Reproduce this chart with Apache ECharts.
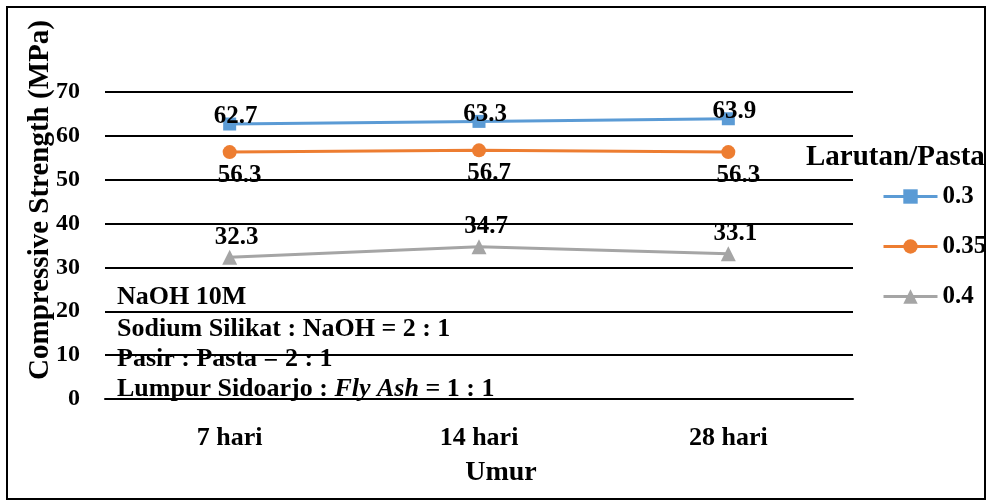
<!DOCTYPE html>
<html><head><meta charset="utf-8">
<script src="https://cdn.jsdelivr.net/npm/echarts@6/dist/echarts.min.js"></script>
<style>html,body{margin:0;padding:0;background:#fff}#c{width:990px;height:502px}</style>
</head><body><div id="c"></div>
<script>
const categories = ['7 hari', '14 hari', '28 hari'];
const seriesNames = ['0.3', '0.35', '0.4'];
const s03 = [62.7, 63.3, 63.9];
const s035 = [56.3, 56.7, 56.3];
const s04 = [32.3, 34.7, 33.1];
const yMin = 0, yMax = 70, yStep = 10;
const yTitle = 'Compressive Strength (MPa)';
const xTitle = 'Umur';
const legendTitle = 'Larutan/Pasta';
const notes = ['NaOH 10M', 'Sodium Silikat : NaOH = 2 : 1', 'Pasir : Pasta = 2 : 1', 'Lumpur Sidoarjo : {i|Fly Ash} = 1 : 1'];

const FF = '"Liberation Serif", "Times New Roman", serif';
const chart = echarts.init(document.getElementById('c'), null, {renderer: 'canvas'});
const lblBase = {show: true, fontFamily: FF, fontWeight: 'bold', fontSize: 25, color: '#000'};
function mk(name, data, color, symbol, size, pos, dist, off) {
  return {
    name, type: 'line', data, symbol, symbolSize: size,
    lineStyle: {color, width: 3}, itemStyle: {color},
    label: Object.assign({}, lblBase, {position: pos, distance: dist, offset: off}),
    z: 5
  };
}
const noteGraphics = notes.map((t, i) => ({
  type: 'text', x: 117, y: [297, 329, 359, 389][i],
  style: {
    text: t, fontFamily: FF, fontWeight: 'bold', fontSize: 26, fill: '#000',
    textAlign: 'left', textVerticalAlign: 'middle',
    rich: {i: {fontFamily: FF, fontWeight: 'bold', fontStyle: 'italic', fontSize: 26, fill: '#000'}}
  }, z: 10
}));
chart.setOption({
  animation: false,
  backgroundColor: '#fff',
  grid: {left: 105, right: 137, top: 92, bottom: 103},
  xAxis: {
    type: 'category', data: categories, boundaryGap: true,
    axisLine: {show: true, lineStyle: {color: '#000', width: 2}},
    axisTick: {show: false},
    axisLabel: {fontFamily: FF, fontWeight: 'bold', fontSize: 26, color: '#000', margin: 26}
  },
  yAxis: {
    type: 'value', min: yMin, max: yMax, interval: yStep,
    axisLine: {show: false}, axisTick: {show: false},
    splitLine: {lineStyle: {color: '#000', width: 2}},
    axisLabel: {fontFamily: FF, fontWeight: 'bold', fontSize: 24, color: '#000', margin: 25}
  },
  legend: {
    orient: 'vertical', left: 877, top: 179, itemWidth: 54, itemHeight: 18, itemGap: 25,
    lineStyle: {width: 3},
    textStyle: {fontFamily: FF, fontWeight: 'bold', fontSize: 25, color: '#000'},
    data: seriesNames
  },
  series: [
    mk(seriesNames[0], s03, '#5B9BD5', 'rect', 13, 'top', -12, [6, 0]),
    mk(seriesNames[1], s035, '#ED7D31', 'circle', 14, 'bottom', 4, [10, 0]),
    mk(seriesNames[2], s04, '#A5A5A5', 'triangle', 15, 'top', 0, [7, 0])
  ],
  graphic: [
    {type: 'rect', shape: {x: 7, y: 7, width: 978, height: 492}, style: {fill: 'none', stroke: '#000', lineWidth: 2}, z: 20},
    {type: 'text', x: 41, y: 200, rotation: Math.PI / 2,
      style: {text: yTitle, fontFamily: FF, fontWeight: 'bold', fontSize: 29, fill: '#000', textAlign: 'center', textVerticalAlign: 'middle'}, z: 10},
    {type: 'text', x: 501, y: 473,
      style: {text: xTitle, fontFamily: FF, fontWeight: 'bold', fontSize: 28, fill: '#000', textAlign: 'center', textVerticalAlign: 'middle'}, z: 10},
    {type: 'text', x: 806, y: 158,
      style: {text: legendTitle, fontFamily: FF, fontWeight: 'bold', fontSize: 29, fill: '#000', textAlign: 'left', textVerticalAlign: 'middle'}, z: 10}
  ].concat(noteGraphics)
});
</script></body></html>
